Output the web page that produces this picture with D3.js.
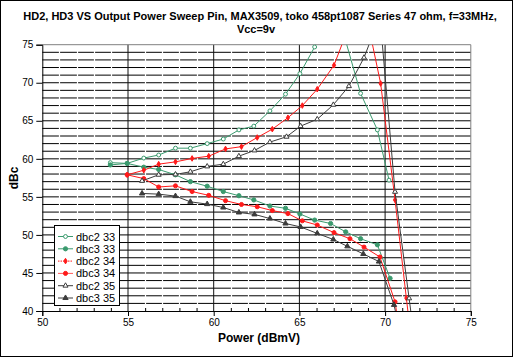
<!DOCTYPE html>
<html><head><meta charset="utf-8">
<script src="https://cdn.jsdelivr.net/npm/d3@7"></script>
<style>
body{margin:0;background:#fff}
svg{display:block}
text{font-family:"Liberation Sans",Arial,Helvetica,sans-serif;fill:#000}
</style>
</head><body>
<svg id="chart" width="513" height="357"></svg>
<script>
// ---------- data ----------
const titleLine1 = "HD2, HD3 VS Output Power Sweep Pin, MAX3509, toko 458pt1087 Series 47 ohm, f=33MHz,";
const titleLine2 = "Vcc=9v";
const xAxisTitle = "Power (dBmV)";
const yAxisTitle = "dBc";
const xTickValues = [50, 55, 60, 65, 70, 75];
const yTickValues = [40, 45, 50, 55, 60, 65, 70, 75];
const seriesNames = ["dbc2 33", "dbc3 33", "dbc2 34", "dbc3 34", "dbc2 35", "dbc3 35"];

const power_dbc2_33 = [53.97, 54.95, 55.92, 56.79, 57.77, 58.64, 59.62, 60.56, 61.47, 62.34, 63.28, 64.19, 65.03, 65.89, 66.8, 67.7, 68.57, 69.55, 70.23];
const value_dbc2_33 = [59.5, 59.4, 60.1, 60.5, 61.4, 61.4, 62.0, 62.6, 63.8, 64.3, 66.3, 68.5, 71.2, 74.7, 82, 75.5, 68.6, 63.8, 57.2];

const power_dbc3_33 = [53.97, 54.95, 55.92, 56.79, 57.77, 58.64, 59.62, 60.56, 61.47, 62.34, 63.28, 64.19, 65.03, 65.89, 66.82, 67.7, 68.57, 69.55, 70.29];
const value_dbc3_33 = [59.2, 59.4, 58.9, 58.6, 57.9, 57.0, 56.4, 55.7, 55.15, 54.6, 53.8, 53.5, 52.75, 51.95, 51.5, 50.4, 49.5, 48.7, 44.3];

const power_dbc2_34 = [54.95, 55.92, 56.79, 57.77, 58.74, 59.71, 60.69, 61.62, 62.54, 63.42, 64.33, 65.17, 66.04, 67.02, 67.9, 68.8, 69.74, 70.58, 71.24, 72.0];
const value_dbc2_34 = [57.9, 58.5, 59.3, 59.6, 60.05, 60.35, 61.3, 61.6, 62.8, 63.9, 65.4, 67.0, 69.15, 72.3, 77.5, 80, 69.9, 54.6, 41.7, 27];

const power_dbc3_34 = [54.95, 55.92, 56.79, 57.77, 58.74, 59.71, 60.69, 61.62, 62.54, 63.42, 64.33, 65.17, 66.04, 67.02, 67.95, 68.77, 69.7, 70.58, 71.0];
const value_dbc3_34 = [57.9, 57.4, 56.3, 56.45, 55.7, 55.2, 54.5, 54.0, 53.7, 53.2, 52.8, 51.85, 51.3, 50.3, 49.5, 48.4, 47.1, 41.2, 35];

const power_dbc2_35 = [55.82, 56.79, 57.77, 58.64, 59.62, 60.56, 61.47, 62.38, 63.28, 64.25, 65.07, 66.04, 66.98, 67.89, 68.77, 69.7, 70.58, 71.4, 72.2];
const value_dbc2_35 = [57.1, 57.9, 57.95, 58.3, 59.0, 59.3, 60.35, 61.1, 62.2, 62.9, 64.3, 65.2, 67.1, 69.55, 73.3, 78.75, 55.66, 41.66, 28];

const power_dbc3_35 = [55.82, 56.79, 57.77, 58.64, 59.62, 60.56, 61.47, 62.38, 63.28, 64.19, 65.07, 66.04, 66.98, 67.8, 68.73, 69.64, 70.52, 71.0];
const value_dbc3_35 = [55.45, 55.36, 55.1, 54.35, 54.05, 53.6, 52.95, 52.7, 52.15, 51.5, 51.05, 50.2, 49.4, 48.5, 47.5, 46.5, 40.8, 36];

// ---------- styling ----------
const GREEN = "#3a9a6e", RED = "#ff1a1a", DARK = "#3c3c3c";
const seriesStyle = [
  {color: GREEN, symbol: d3.symbolCircle, size: 12, fill: "#fff"},
  {color: GREEN, symbol: d3.symbolCircle, size: 14, fill: GREEN},
  {color: RED, symbol: d3.symbolDiamond, size: 9, fill: RED, legendDash: "1.5,1"},
  {color: RED, symbol: d3.symbolCircle, size: 13, fill: RED, legendColor: "#ff5a5a"},
  {color: DARK, symbol: d3.symbolTriangle, size: 11, fill: "#fff"},
  {color: DARK, symbol: d3.symbolTriangle, size: 12, fill: DARK}
];
const seriesData = [
  [power_dbc2_33, value_dbc2_33],
  [power_dbc3_33, value_dbc3_33],
  [power_dbc2_34, value_dbc2_34],
  [power_dbc3_34, value_dbc3_34],
  [power_dbc2_35, value_dbc2_35],
  [power_dbc3_35, value_dbc3_35]
].map(([p, v]) => p.map((x, i) => ({x, y: v[i]})));

const W = 513, H = 357;
const plot = {left: 42.3, right: 470.8, top: 44.7, bottom: 311};

const svg = d3.select("#chart");
const x = d3.scaleLinear().domain([50, 75]).range([plot.left, plot.right]);
const y = d3.scaleLinear().domain([40, 75]).range([plot.bottom, plot.top]);

// outer frame
svg.append("rect").attr("x", 0.5).attr("y", 0.5).attr("width", W - 1).attr("height", H - 1)
  .attr("fill", "#fff").attr("stroke", "#000").attr("stroke-width", 1);

// horizontal gridlines each 1 dBc
const hGrid = d3.range(41, 75);
svg.append("g").selectAll("line").data(hGrid).join("line")
  .attr("x1", plot.left).attr("x2", plot.right)
  .attr("y1", d => y(d)).attr("y2", d => y(d))
  .attr("stroke", "#000").attr("stroke-width", 1);

// white minor breaks at each integer power (non major)
const minorX = d3.range(51, 75).filter(d => d % 5 !== 0);
svg.append("g").selectAll("line").data(minorX).join("line")
  .attr("x1", d => Math.round(x(d)) + 0.5).attr("x2", d => Math.round(x(d)) + 0.5)
  .attr("y1", plot.top + 1).attr("y2", plot.bottom - 3)
  .attr("stroke", "#fff").attr("stroke-width", 1.2);

// vertical major gridlines
svg.append("g").selectAll("line").data([55, 60, 65, 70]).join("line")
  .attr("x1", d => x(d)).attr("x2", d => x(d))
  .attr("y1", plot.top).attr("y2", plot.bottom)
  .attr("stroke", "#111").attr("stroke-width", 1);

// plot border
svg.append("line").attr("x1", plot.left).attr("x2", plot.right).attr("y1", plot.top).attr("y2", plot.top)
  .attr("stroke", "#808080");
svg.append("line").attr("x1", plot.right).attr("x2", plot.right).attr("y1", plot.top).attr("y2", plot.bottom)
  .attr("stroke", "#808080");

// axes
const yAxis = d3.axisLeft(y).tickValues(yTickValues).tickSize(6).tickPadding(3);
const gy = svg.append("g").attr("transform", `translate(${plot.left},0)`).call(yAxis);
gy.select(".domain").attr("stroke", "#000");
gy.selectAll("text").attr("font-size", 10).style("font-family", '"Liberation Sans",Arial,sans-serif');

const xAxis = d3.axisBottom(x).tickValues(xTickValues).tickSize(5).tickPadding(3);
const gx = svg.append("g").attr("transform", `translate(0,${plot.bottom})`).call(xAxis);
gx.select(".domain").attr("stroke", "#000");
gx.selectAll("text").attr("font-size", 10).style("font-family", '"Liberation Sans",Arial,sans-serif');

const xMinor = d3.axisBottom(x).tickValues(minorX).tickSize(-3).tickFormat("");
const gxm = svg.append("g").attr("transform", `translate(0,${plot.bottom})`).call(xMinor);
gxm.select(".domain").remove();

// clip
svg.append("clipPath").attr("id", "clip").append("rect")
  .attr("x", plot.left).attr("y", plot.top).attr("width", plot.right - plot.left).attr("height", plot.bottom - plot.top);

const line = d3.line().x(d => x(d.x)).y(d => y(d.y));
const dataG = svg.append("g").attr("clip-path", "url(#clip)");
seriesData.forEach((pts, i) => {
  const st = seriesStyle[i];
  const g = dataG.append("g");
  g.append("path").datum(pts).attr("d", line).attr("fill", "none")
    .attr("stroke", st.color).attr("stroke-width", 1);
  g.selectAll("path.m").data(pts.filter(d => d.y >= 40 && d.y <= 75)).join("path").attr("class", "m")
    .attr("transform", d => `translate(${x(d.x)},${y(d.y)})`)
    .attr("d", d3.symbol().type(st.symbol).size(st.size))
    .attr("fill", st.fill).attr("stroke", st.color).attr("stroke-width", 1);
});

// legend
const lg = svg.append("g");
lg.append("rect").attr("x", 54.5).attr("y", 225.5).attr("width", 65).attr("height", 80)
  .attr("fill", "#fff").attr("stroke", "#000").attr("stroke-width", 1);
seriesNames.forEach((name, i) => {
  const st = seriesStyle[i];
  const cy = 236.5 + i * 12.3;
  lg.append("line").attr("x1", 58).attr("x2", 73).attr("y1", cy).attr("y2", cy)
    .attr("stroke", st.legendColor || st.color).attr("stroke-width", 1)
    .attr("stroke-dasharray", st.legendDash || null);
  lg.append("path").attr("transform", `translate(65.5,${cy})`)
    .attr("d", d3.symbol().type(st.symbol).size(st.size))
    .attr("fill", st.fill).attr("stroke", st.color).attr("stroke-width", 1);
  lg.append("text").attr("x", 76).attr("y", cy + 4).attr("font-size", 11).text(name);
});

// titles
svg.append("text").attr("x", 260).attr("y", 20).attr("text-anchor", "middle")
  .attr("font-size", 11).attr("font-weight", "bold").text(titleLine1);
svg.append("text").attr("x", 256).attr("y", 33).attr("text-anchor", "middle")
  .attr("font-size", 11).attr("font-weight", "bold").text(titleLine2);
svg.append("text").attr("x", 259).attr("y", 342).attr("text-anchor", "middle")
  .attr("font-size", 12).attr("font-weight", "bold").text(xAxisTitle);
svg.append("text").attr("transform", "translate(18,178) rotate(-90)").attr("text-anchor", "middle")
  .attr("font-size", 12).attr("font-weight", "bold").text(yAxisTitle);
</script>
</body></html>
